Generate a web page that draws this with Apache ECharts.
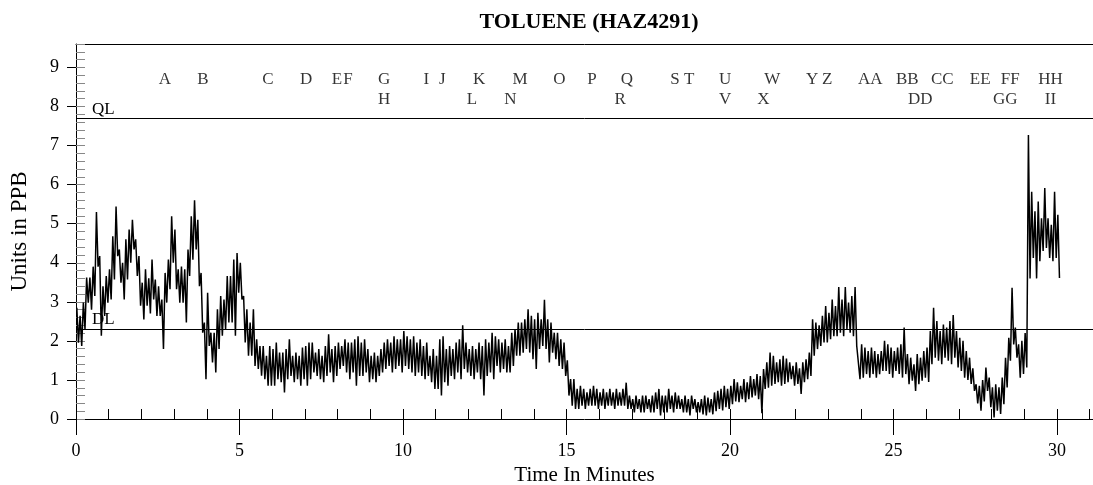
<!DOCTYPE html>
<html><head><meta charset="utf-8">
<script src="https://cdn.jsdelivr.net/npm/echarts@6/dist/echarts.min.js"></script>
<style>html,body{margin:0;padding:0;background:#fff}#c{width:1093px;height:485px}</style>
</head><body><div id="c"></div><script>
// ---- data ----
// Signal envelope per 0.1-minute bin (high / low reading within each bin), bins start at t = 0
const binStart = 0;
const binWidth = 0.1;
const binHigh = [
2.85,2.64,2.98,3.62,3.62,3.90,5.30,4.17,3.40,3.66,
3.83,4.68,5.44,4.34,4.00,4.60,4.85,5.10,4.60,4.17,
3.49,3.83,3.60,4.08,3.57,3.40,3.06,3.74,4.08,5.19,
4.85,3.83,3.90,3.83,4.34,5.19,5.60,5.10,3.74,2.47,
3.23,2.21,2.21,2.81,3.15,3.06,3.66,3.66,4.08,4.25,
4.00,3.15,2.81,2.47,2.81,2.04,1.87,1.87,1.62,1.87,
1.79,1.96,1.70,1.70,1.79,2.04,1.62,1.70,1.62,1.83,
1.87,1.96,1.96,1.70,1.79,1.62,1.87,2.17,1.79,1.87,
1.96,1.87,2.04,1.96,1.96,2.04,2.12,1.96,2.04,1.79,
1.62,1.70,1.62,1.79,1.96,2.04,1.96,2.12,2.04,2.04,
2.25,2.12,2.04,2.12,1.96,2.04,1.87,1.96,1.62,1.79,
1.62,2.04,2.12,1.79,1.87,1.79,1.96,2.04,2.40,1.96,
1.79,1.87,1.79,1.96,1.87,2.04,1.96,2.21,2.12,2.04,
1.96,2.04,1.87,2.21,2.30,2.47,2.47,2.55,2.81,2.64,
2.55,2.72,2.55,3.05,2.55,2.47,2.21,2.21,2.04,1.96,
1.50,1.02,1.02,0.77,0.85,0.77,0.68,0.77,0.85,0.77,
0.68,0.77,0.68,0.77,0.68,0.77,0.68,0.77,0.93,0.60,
0.51,0.60,0.51,0.60,0.60,0.51,0.60,0.68,0.77,0.60,
0.60,0.77,0.60,0.68,0.60,0.51,0.60,0.51,0.60,0.51,
0.43,0.51,0.60,0.55,0.51,0.68,0.72,0.77,0.85,0.77,
0.85,1.02,0.94,0.85,1.02,0.94,1.10,1.02,1.15,1.10,
1.28,1.45,1.70,1.62,1.45,1.53,1.62,1.55,1.45,1.36,
1.45,1.30,1.45,1.53,1.70,2.55,2.47,2.40,2.64,2.89,
2.72,3.06,2.89,3.38,3.06,3.38,2.98,3.15,3.38,1.87,
1.91,1.83,1.74,1.83,1.74,1.66,1.74,2.00,1.91,1.83,
1.74,1.83,1.91,2.34,1.66,1.57,1.40,1.66,1.57,1.74,
1.83,2.25,2.85,2.51,2.25,2.42,2.34,2.51,2.66,2.25,
2.08,2.00,1.74,1.57,1.30,0.89,0.85,1.00,1.32,1.06,
0.81,0.89,0.81,1.06,1.57,2.08,3.36,2.34,1.91,2.00,
2.20,7.27,5.82,5.32,5.57,5.14,5.91,5.14,4.97,5.82,5.23
];
const binLow = [
1.95,1.87,2.30,2.98,2.80,3.15,3.90,2.13,2.64,2.98,
3.06,3.57,4.17,3.49,3.06,3.57,4.00,4.34,3.66,2.90,
2.55,2.90,2.70,3.06,2.64,2.64,1.79,2.98,3.32,4.00,
3.32,2.98,2.98,2.47,3.66,4.08,4.34,3.40,2.21,1.02,
1.87,1.45,1.19,1.79,2.13,2.30,2.47,2.47,2.13,3.23,
3.06,1.96,1.62,1.62,1.36,1.28,1.11,1.02,0.85,0.85,
0.85,1.02,0.94,0.68,1.02,1.10,0.94,1.02,0.85,1.02,
0.85,1.02,1.19,1.10,1.02,0.94,1.10,1.19,0.94,1.10,
1.28,1.36,1.19,1.02,1.19,0.85,1.10,1.10,1.19,0.94,
1.02,0.94,1.10,1.19,1.28,1.36,1.19,1.28,1.36,1.19,
1.36,1.28,1.19,1.10,1.19,1.10,1.02,1.10,0.94,0.77,
0.77,0.60,0.94,0.85,1.10,1.02,1.19,1.02,1.28,1.19,
1.10,1.02,1.19,1.02,0.60,1.10,1.19,1.02,1.36,1.19,
1.28,1.19,1.19,1.36,1.62,1.62,1.70,1.79,1.70,1.53,
1.28,1.79,1.87,1.79,1.45,1.70,1.53,1.36,1.28,1.10,
0.60,0.34,0.26,0.26,0.34,0.26,0.34,0.34,0.34,0.26,
0.34,0.26,0.34,0.34,0.26,0.34,0.34,0.34,0.26,0.26,
0.17,0.26,0.17,0.17,0.26,0.17,0.17,0.26,0.09,0.17,
0.17,0.26,0.17,0.26,0.26,0.17,0.17,0.09,0.26,0.17,
0.17,0.12,0.09,0.17,0.12,0.20,0.26,0.22,0.30,0.26,
0.38,0.45,0.43,0.51,0.43,0.51,0.55,0.60,0.51,0.15,
0.77,0.80,0.85,0.90,0.94,0.85,0.90,0.94,1.02,0.85,
0.90,0.64,0.94,1.02,1.10,1.62,1.79,1.87,1.96,1.96,
2.04,2.12,2.12,2.21,2.12,2.30,2.21,2.12,1.87,1.02,
1.06,1.15,1.06,1.15,1.06,1.15,1.23,1.23,1.15,1.06,
1.23,1.15,1.06,1.15,0.89,0.98,0.72,0.89,0.98,1.06,
0.95,1.40,1.57,1.49,1.40,1.57,1.49,1.40,1.57,1.32,
1.23,1.06,1.00,0.90,0.72,0.40,0.21,0.45,0.72,0.30,
0.04,0.21,0.13,0.38,0.81,1.49,1.91,1.57,1.06,1.15,
1.32,3.60,4.12,3.60,4.04,4.30,4.38,4.12,4.04,4.12,3.61
];
// Event markers (time in minutes) and which label row they sit in
const eventNames = ['A','B','C','D','E','F','G','H','I','J','K','L','M','N','O','P','Q','R','S','T','U','V','W','X','Y','Z','AA','BB','CC','DD','EE','FF','GG','HH','II'];
const eventTimes = [2.72,3.88,5.87,7.04,7.98,8.32,9.42,9.42,10.71,11.20,12.33,12.11,13.58,13.28,14.78,15.78,16.85,16.64,18.32,18.75,19.85,19.85,21.29,21.02,22.51,22.97,24.29,25.42,26.49,25.82,27.65,28.57,28.42,29.80,29.80];
const eventRows  = [1,1,1,1,1,1,1,2,1,1,1,2,1,2,1,1,1,2,1,1,1,2,1,2,1,1,1,1,1,2,1,1,2,1,2];
// Limits
const limitNames = ['QL','DL'];
const limitValues = [7.69, 2.305];
// Axis ticks
const xLabelTicks = [0,5,10,15,20,25,30];
const yLabelTicks = [0,1,2,3,4,5,6,7,8,9];

// ---- chart ----
const FONT = '"Liberation Serif","Times New Roman",serif';
const X_MAX = 31.1, Y_MAX = 9.6;
const ROW_LEVEL = {1: 8.69, 2: 8.19};
const minuteTicks = []; for (let m = 0; m <= 31; m++) minuteTicks.push(m);
const fifthTicks = []; for (let k = 0; k <= 48; k++) fifthTicks.push(+(k * 0.2).toFixed(1));

const pts = [];
for (let i = 0; i < binHigh.length; i++) {
  const t0 = binStart + i * binWidth;
  pts.push([t0 + binWidth * 0.25, binHigh[i]]);
  pts.push([t0 + binWidth * 0.75, binLow[i]]);
}

const txt = {fontFamily: FONT, color: '#000'};
const chart = echarts.init(document.getElementById('c'), null, {renderer: 'canvas'});
chart.setOption({
  animation: false,
  backgroundColor: '#fff',
  title: {text: 'TOLUENE (HAZ4291)', left: 584, textAlign: 'center', top: 6,
          textStyle: {fontFamily: FONT, fontWeight: 'bold', fontSize: 22, color: '#000'}},
  grid: {left: 76, right: 0, top: 44, bottom: 66, containLabel: false, outerBoundsMode: 'none'},
  xAxis: [
    {type: 'value', position: 'bottom', min: 0, max: X_MAX,
     axisLine: {show: true, lineStyle: {color: '#000', width: 1}},
     axisTick: {show: true, inside: true, length: 10, customValues: minuteTicks, lineStyle: {color: '#000'}},
     axisLabel: {show: true, customValues: xLabelTicks, margin: 23, fontSize: 18, ...txt},
     splitLine: {show: false},
     name: 'Time In Minutes', nameLocation: 'middle', nameGap: 38,
     nameTextStyle: {fontSize: 21, ...txt}},
    {type: 'value', position: 'bottom', min: 0, max: X_MAX,
     axisLine: {show: false},
     axisTick: {show: true, inside: false, length: 16, customValues: xLabelTicks, lineStyle: {color: '#000'}},
     axisLabel: {show: false}, splitLine: {show: false}},
    {type: 'value', position: 'top', min: 0, max: X_MAX,
     axisLine: {show: true, lineStyle: {color: '#000', width: 1}},
     axisTick: {show: false}, axisLabel: {show: false}, splitLine: {show: false}}
  ],
  yAxis: [
    {type: 'value', position: 'left', min: 0, max: Y_MAX,
     axisLine: {show: true, lineStyle: {color: '#000', width: 1}},
     axisTick: {show: true, inside: false, length: 9, customValues: yLabelTicks, lineStyle: {color: '#000'}},
     axisLabel: {show: true, customValues: yLabelTicks, margin: 17, fontSize: 18, ...txt},
     splitLine: {show: false},
     name: 'Units in PPB', nameLocation: 'middle', nameGap: 45, nameRotate: 90,
     nameTextStyle: {fontSize: 23, ...txt}},
    {type: 'value', position: 'left', min: 0, max: Y_MAX,
     axisLine: {show: false},
     axisTick: {show: true, inside: true, length: 9, customValues: fifthTicks, lineStyle: {color: '#888'}},
     axisLabel: {show: false}, splitLine: {show: false}}
  ],
  series: [
    {name: 'limits', type: 'line', data: [], z: 1, silent: true,
     markLine: {silent: true, symbol: 'none', animation: false,
       lineStyle: {color: '#000', width: 1, type: 'solid'},
       label: {show: true, position: 'insideStartTop', formatter: '{b}', distance: [16, 1], fontSize: 17, ...txt},
       emphasis: {disabled: true},
       data: limitNames.map((n, i) => ({name: n, yAxis: limitValues[i]}))}},
    {name: 'Toluene', type: 'line', data: pts, z: 2, silent: true,
     showSymbol: false, symbol: 'none', sampling: null,
     lineStyle: {color: '#000', width: 1.5}},
    {name: 'events', type: 'scatter', z: 4, silent: true, symbolSize: 1,
     itemStyle: {color: 'rgba(0,0,0,0)'},
     label: {show: true, position: 'inside', formatter: p => p.name, fontSize: 17, ...txt},
     data: eventNames.map((n, i) => ({name: n, value: [eventTimes[i], ROW_LEVEL[eventRows[i]]]}))}
  ]
});
</script></body></html>
